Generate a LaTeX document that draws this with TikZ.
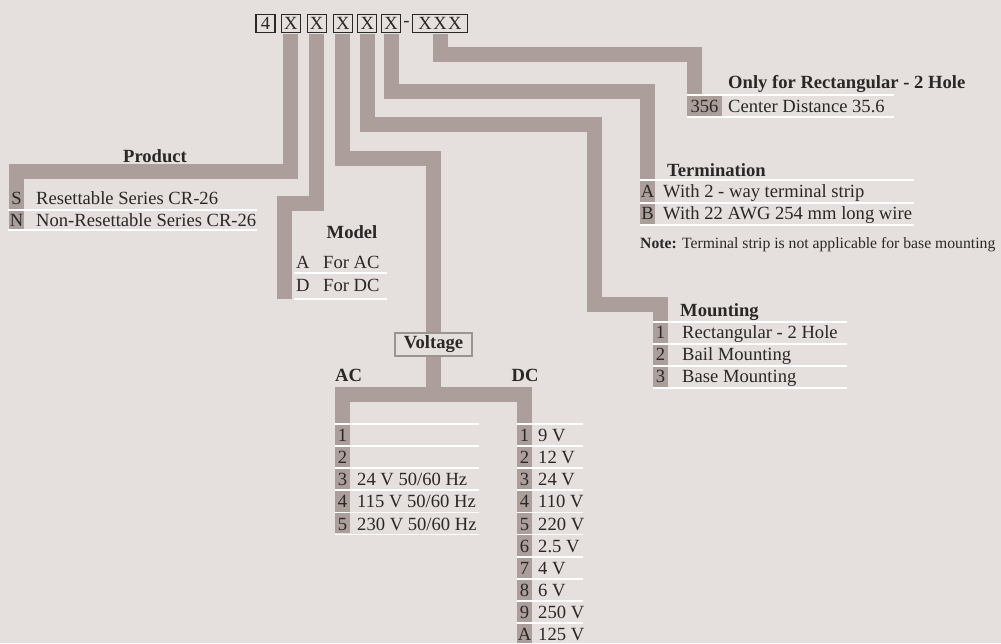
\documentclass[tikz,border=0pt]{standalone}
\usepackage{fontspec}
\setmainfont{Liberation Serif}
\usepackage{xcolor}
\definecolor{paper}{HTML}{E5E0DD}
\definecolor{taupe}{HTML}{AC9F9B}
\definecolor{ink}{HTML}{2A2727}
\definecolor{frame}{HTML}{9C9491}
\newcommand{\chartfont}{\fontsize{18.6}{21}\selectfont}
\newcommand{\notefont}{\fontsize{15.7}{18}\selectfont}
\tikzstyle{codebox} = [rectangle, draw=ink, line width=1.1pt, minimum width=19pt,
                       minimum height=18.5pt, inner sep=0pt, text=ink]
\tikzstyle{bar} = [draw=taupe, line width=15pt, line join=miter, shorten <=0.6pt]
\tikzstyle{rule} = [draw=white, line width=1.8pt]
\tikzstyle{txt} = [anchor=base west, inner sep=0pt, text=ink]
\tikzstyle{num} = [anchor=base, inner sep=0pt, text=ink]
\tikzstyle{head} = [anchor=base west, inner sep=0pt, text=ink, font=\chartfont\bfseries]

\begin{document}
\begin{tikzpicture}[x=1pt, y=-1pt, font=\chartfont]
    \fill[paper] (0,0) rectangle (1001,643);
    \useasboundingbox (0,0) rectangle (1001,643);

    % ordering code
    \node[codebox] (c0) at (265.5,23.3) {4};
    \node[codebox] (c1) at (290.8,23.3) {X};
    \node[codebox] (c2) at (316.7,23.3) {X};
    \node[codebox] (c3) at (342.8,23.3) {X};
    \node[codebox] (c4) at (367.3,23.3) {X};
    \node[codebox] (c5) at (391.2,23.3) {X};
    \node[txt, anchor=center] (dash) at (406.5,23.5) {-};
    \node[codebox, minimum width=54.6pt] (c6) at (440,23.3) {X\kern1.5pt X\kern1.5pt X};
    \node[draw=frame, line width=1.4pt, fill=paper, text=ink, font=\chartfont\bfseries,
          minimum width=77pt, minimum height=23pt, inner sep=0pt] (volt) at (433.5,344.5) {Voltage};

    % bars
    \coordinate (p1) at (16.5,171.5);
    \coordinate (pend) at (16.5,230);
    \draw[bar] (c1.south) |- (p1) -- (pend);

    \coordinate (m1) at (284.5,203.5);
    \coordinate (mend) at (284.5,299);
    \draw[bar] (c2.south) |- (m1) -- (mend);

    \coordinate (v1) at (433.5,158);
    \coordinate (split) at (433.5,394.5);
    \coordinate (acend) at (342.5,534);
    \coordinate (dcend) at (524.5,643);
    \draw[bar, shorten >=0.7pt] (c3.south) |- (v1) -- (volt.north);
    \draw[bar] (volt.south) -- (split);
    \draw[bar] (acend) |- (split) -| (dcend);

    \coordinate (n1) at (594,124.5);
    \coordinate (n2) at (660.5,304.5);
    \coordinate (nend) at (660.5,388);
    \draw[bar] (c4.south) |- (n1) |- (n2) -- (nend);

    \coordinate (t1) at (647.5,91.5);
    \coordinate (tend) at (647.5,225);
    \draw[bar] (c5.south) |- (t1) -- (tend);

    \coordinate (o1) at (694.5,54.5);
    \coordinate (oend) at (694.5,117);
    \draw[bar] (c6.south) |- (o1) -- (oend);
    \fill[taupe] (687,95) rectangle (722,117);

    % white rules
    \draw[rule] (8,210) -- (257,210) (8,230) -- (257,230);
    \draw[rule] (294,273) -- (387,273) (294,299) -- (387,299);
    \draw[rule] (640,180) -- (914,180) (640,203) -- (914,203) (640,225) -- (914,225);
    \draw[rule] (653,322) -- (847,322) (653,344) -- (847,344) (653,366) -- (847,366)
                (653,388) -- (847,388);
    \draw[rule] (687,95) -- (894,95) (687,117) -- (894,117);
    \draw[rule] (335,424) -- (479,424) (335,446.1) -- (479,446.1) (335,468.2) -- (479,468.2)
                (335,490.3) -- (479,490.3) (335,512.4) -- (479,512.4) (335,534.5) -- (479,534.5);
    \draw[rule] (517,424) -- (583,424) (517,446.1) -- (583,446.1) (517,468.2) -- (583,468.2)
                (517,490.3) -- (583,490.3) (517,512.4) -- (583,512.4) (517,534.5) -- (583,534.5)
                (517,556.6) -- (583,556.6) (517,578.7) -- (583,578.7) (517,600.8) -- (583,600.8)
                (517,622.9) -- (583,622.9);

    % product
    \node[head, anchor=base] (prod) at (155,162) {Product};
    \node[num] (ps) at (16.5,204.5) {S};
    \node[txt] (pst) at (36,204.5) {Resettable Series CR-26};
    \node[num] (pn) at (16.5,226.5) {N};
    \node[txt] (pnt) at (36,226.5) {Non-Resettable Series CR-26};

    % model
    \node[head, anchor=base] (model) at (352,238) {Model};
    \node[txt] (ma) at (296,268.5) {A};
    \node[txt] (mat) at (323,268.5) {For AC};
    \node[txt] (md) at (296,291) {D};
    \node[txt] (mdt) at (323,291) {For DC};

    % termination
    \node[head] (term) at (667,176) {Termination};
    \node[num] (ta) at (647.5,197) {A};
    \node[txt] (tat) at (663,197) {With 2 - way terminal strip};
    \node[num] (tb) at (647.5,219) {B};
    \node[txt] (tbt) at (663,219) {With 22 AWG 254 mm long wire};
    \node[txt, font=\notefont] (note) at (640,248) {\textbf{Note:} Terminal strip is not applicable for base mounting};

    % mounting
    \node[head] (mount) at (680,316) {Mounting};
    \node[num] (m1n) at (660.5,338.3) {1};
    \node[txt] (m1t) at (682,338.3) {Rectangular - 2 Hole};
    \node[num] (m2n) at (660.5,360.5) {2};
    \node[txt] (m2t) at (682,360.5) {Bail Mounting};
    \node[num] (m3n) at (660.5,382.5) {3};
    \node[txt] (m3t) at (682,382.5) {Base Mounting};

    % centre distance
    \node[head] (only) at (728,88.3) {Only for Rectangular - 2 Hole};
    \node[num] (cd) at (704.5,112.3) {356};
    \node[txt] (cdt) at (728,112.3) {Center Distance 35.6};

    % voltage
    \node[head] (ac) at (335,381) {AC};
    \node[head] (dc) at (511.5,381) {DC};

    \node[num] (a1) at (342.5,441.6) {1};
    \node[num] (a2) at (342.5,463.7) {2};
    \node[num] (a3) at (342.5,485.8) {3};
    \node[txt] (a3t) at (357,485.8) {24 V 50/60 Hz};
    \node[num] (a4) at (342.5,507.9) {4};
    \node[txt] (a4t) at (357,507.9) {115 V 50/60 Hz};
    \node[num] (a5) at (342.5,530) {5};
    \node[txt] (a5t) at (357,530) {230 V 50/60 Hz};

    \node[num] (d1) at (524.5,441.6) {1};
    \node[txt] (d1t) at (538,441.6) {9 V};
    \node[num] (d2) at (524.5,463.7) {2};
    \node[txt] (d2t) at (538,463.7) {12 V};
    \node[num] (d3) at (524.5,485.8) {3};
    \node[txt] (d3t) at (538,485.8) {24 V};
    \node[num] (d4) at (524.5,507.9) {4};
    \node[txt] (d4t) at (538,507.9) {110 V};
    \node[num] (d5) at (524.5,530) {5};
    \node[txt] (d5t) at (538,530) {220 V};
    \node[num] (d6) at (524.5,552.1) {6};
    \node[txt] (d6t) at (538,552.1) {2.5 V};
    \node[num] (d7) at (524.5,574.2) {7};
    \node[txt] (d7t) at (538,574.2) {4 V};
    \node[num] (d8) at (524.5,596.3) {8};
    \node[txt] (d8t) at (538,596.3) {6 V};
    \node[num] (d9) at (524.5,618.4) {9};
    \node[txt] (d9t) at (538,618.4) {250 V};
    \node[num] (dA) at (524.5,640.5) {A};
    \node[txt] (dAt) at (538,640.5) {125 V};
\end{tikzpicture}
\end{document}
